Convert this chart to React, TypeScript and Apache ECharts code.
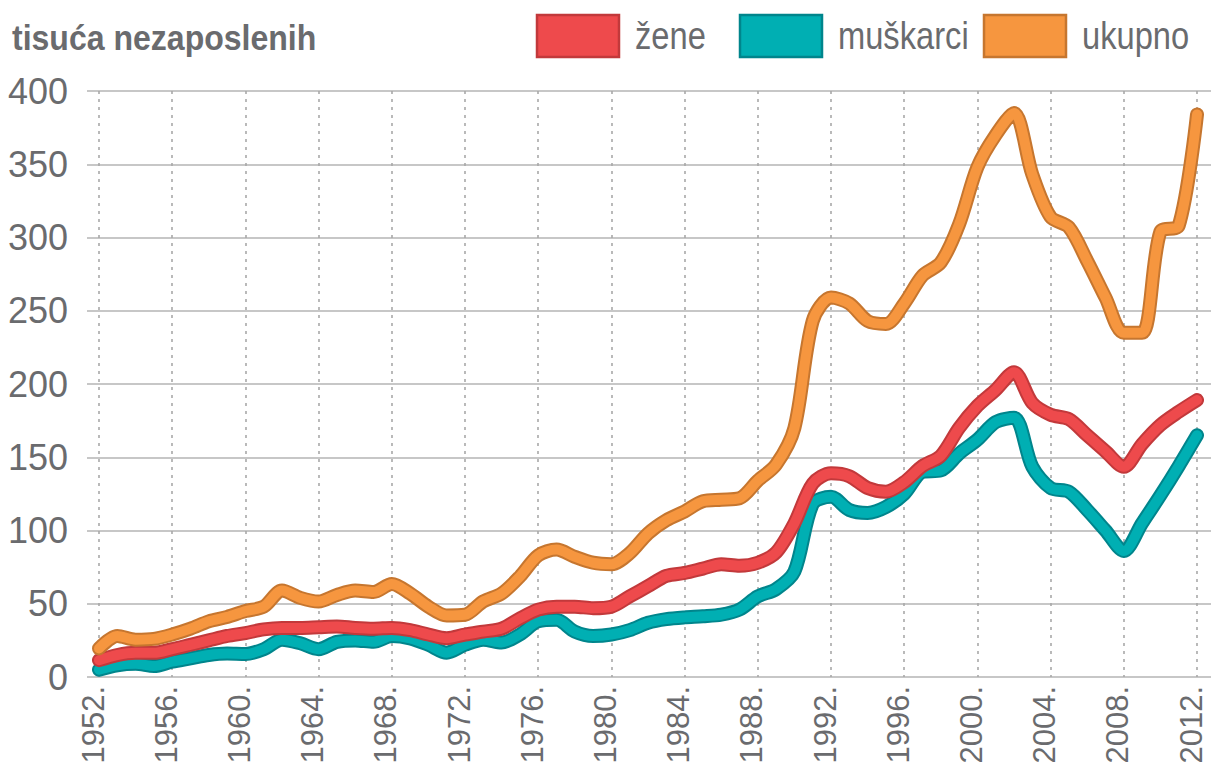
import React, { useEffect, useRef } from "react";
import * as echarts from "echarts";

const years: number[] = [];
for (let y = 1952; y <= 2012; y++) years.push(y);

const zene = [
  11.5, 15, 16.5, 16.5, 19, 22, 25, 28, 30, 32.5,
  33.5, 33.5, 34, 34.5, 33.5, 33, 33.5, 32, 29, 26.5,
  29, 31, 33, 40, 46, 48, 48, 47, 48, 55,
  62, 69, 71, 74, 77, 76, 78, 85, 105, 132,
  139, 137, 129, 126.5, 133, 144, 151, 170, 185, 196,
  208, 187, 179, 176, 165, 154, 143.5, 159, 172, 181,
  189,
];

const muskarci = [
  5, 8, 9, 7.5, 10.5, 12.7, 15, 16, 15.7, 19,
  25.5, 23, 19, 24, 25, 24, 28, 26.4, 22, 16.6,
  22, 25.5, 23.6, 29, 38, 39, 31, 28, 29, 32,
  37, 39.5, 40.7, 41.4, 42.5, 46, 55, 60, 72, 118,
  123, 114, 112, 116, 125, 140, 141, 152.5, 162, 174,
  177, 143.5, 129, 126.5, 114, 100, 86, 105, 124, 144,
  165,
];

const ukupno = [
  19.5, 28, 25.5, 26, 29, 33, 38, 41, 45, 48,
  59, 54, 51.5, 56, 59, 58, 63.5, 57, 48, 42,
  42.5, 51.6, 57, 68.6, 83, 87, 82, 78, 77, 84.5,
  98, 107, 113, 120, 121, 122, 134, 145, 170, 243,
  259, 255, 243, 241, 255, 274, 283, 309, 348, 370,
  385, 343, 314, 307, 284, 259, 235, 235, 304, 308,
  384,
];

const seriesNames = ["žene", "muškarci", "ukupno"];
const yTicks = [0, 50, 100, 150, 200, 250, 300, 350, 400];

const FILL = { zene: "#EE4A4C", muskarci: "#00AFB3", ukupno: "#F6963F" };
const EDGE = { zene: "#C2393B", muskarci: "#00858C", ukupno: "#C6762F" };

const FONT = "'Liberation Sans Narrow', 'Liberation Sans', Arial, sans-serif";
const GRAY = "#6a6b6e";

export default function App() {
  const ref = useRef<HTMLDivElement>(null);

  useEffect(() => {
    if (!ref.current) return;
    const chart = echarts.init(ref.current, undefined, { renderer: "svg" });

    const pairs = (vals: number[]) => years.map((y, i) => [y, vals[i]]);

    const mk = (name: string, vals: number[], fill: string, edge: string) => [
      {
        name: name + "_edge",
        type: "line",
        xAxisIndex: 1,
        yAxisIndex: 1,
        data: pairs(vals),
        smooth: 0.3,
        showSymbol: false,
        symbol: "none",
        silent: true,
        lineStyle: { color: edge, width: 14, cap: "round", join: "round" },
      },
      {
        name,
        type: "line",
        xAxisIndex: 1,
        yAxisIndex: 1,
        data: pairs(vals),
        smooth: 0.3,
        showSymbol: false,
        symbol: "none",
        silent: true,
        lineStyle: { color: fill, width: 10, cap: "round", join: "round" },
      },
    ];

    const legendItems = [
      { name: seriesNames[0], x: 537, fill: FILL.zene, edge: EDGE.zene },
      { name: seriesNames[1], x: 740, fill: FILL.muskarci, edge: EDGE.muskarci },
      { name: seriesNames[2], x: 984, fill: FILL.ukupno, edge: EDGE.ukupno },
    ];

    const graphic: any[] = [
      {
        type: "text",
        x: 12,
        y: 37,
        scaleX: 0.89,
        style: {
          text: "tisuća nezaposlenih",
          fill: GRAY,
          font: `bold 36px ${FONT}`,
          verticalAlign: "middle",
        },
      },
    ];
    legendItems.forEach((it) => {
      graphic.push({
        type: "rect",
        shape: { x: it.x, y: 15, width: 82, height: 42 },
        style: { fill: it.fill, stroke: it.edge, lineWidth: 2.5 },
      });
      graphic.push({
        type: "text",
        x: it.x + 98,
        y: 36,
        scaleX: 0.86,
        style: {
          text: it.name,
          fill: GRAY,
          font: `38px ${FONT}`,
          verticalAlign: "middle",
          align: "left",
        },
      });
    });

    chart.setOption({
      animation: false,
      backgroundColor: "#ffffff",
      graphic,
      grid: [
        { left: 87, top: 91, width: 1124, height: 586, containLabel: false, outerBoundsMode: "none" },
        { left: 99, top: 91, width: 1098, height: 586, containLabel: false, outerBoundsMode: "none" },
      ],
      xAxis: [
        {
          gridIndex: 0,
          type: "value",
          min: 0,
          max: 1,
          show: false,
        },
        {
          gridIndex: 1,
          type: "value",
          min: 1952,
          max: 2012,
          interval: 4,
          axisLine: { show: false },
          axisTick: { show: false },
          axisLabel: {
            rotate: 90,
            margin: 9,
            color: GRAY,
            fontFamily: FONT,
            fontSize: 31,
            lineHeight: 12,
            verticalAlign: "bottom",
            formatter: (v: number) => `${v}.`,
          },
          splitLine: {
            show: true,
            lineStyle: { color: "#a9a9a9", width: 1.6, type: [3, 5] },
          },
        },
      ],
      yAxis: [
        {
          gridIndex: 0,
          type: "value",
          min: yTicks[0],
          max: yTicks[yTicks.length - 1],
          interval: 50,
          axisLine: { show: false },
          axisTick: { show: false },
          axisLabel: {
            margin: 19,
            color: GRAY,
            fontFamily: FONT,
            fontSize: 36,
          },
          splitLine: { show: true, lineStyle: { color: "#b4b4b4", width: 1.6 } },
        },
        {
          gridIndex: 1,
          type: "value",
          min: 0,
          max: 400,
          show: false,
          splitLine: { show: false },
        },
      ],
      series: [
        ...mk(seriesNames[1], muskarci, FILL.muskarci, EDGE.muskarci),
        ...mk(seriesNames[0], zene, FILL.zene, EDGE.zene),
        ...mk(seriesNames[2], ukupno, FILL.ukupno, EDGE.ukupno),
      ],
    });

    return () => chart.dispose();
  }, []);

  return (
    <div
      ref={ref}
      style={{ position: "fixed", left: 0, top: 0, width: 1211, height: 764 }}
    />
  );
}
